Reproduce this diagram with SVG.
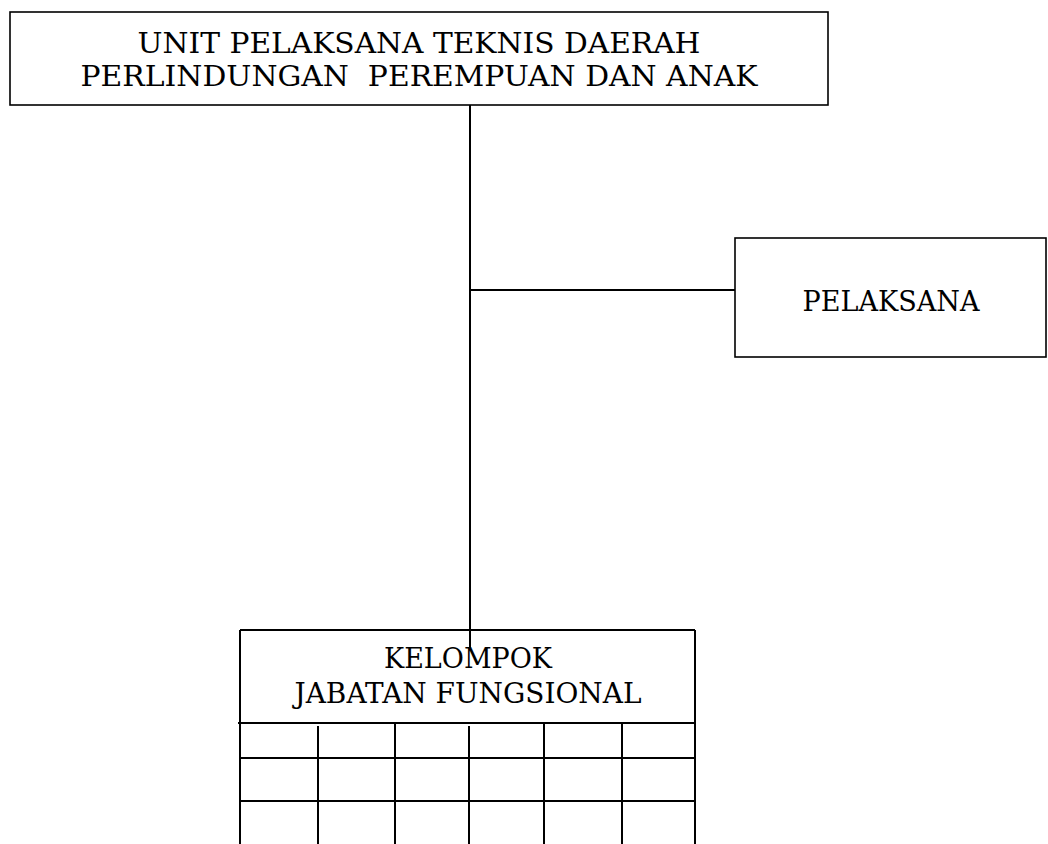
<svg xmlns="http://www.w3.org/2000/svg" width="1048" height="844" viewBox="0 0 1048 844">
<style>
.box{fill:#fff;stroke:#000;stroke-width:1.6}
.ln{stroke:#000;stroke-width:2;fill:none}
.t{font-family:"DejaVu Serif","Liberation Serif",serif;font-size:27px;fill:#000;text-anchor:middle;white-space:pre}
</style>
<rect width="1048" height="844" fill="#fff"/>
<g id="connectors">
<line class="ln" x1="470" y1="105" x2="470" y2="648"/>
<line class="ln" x1="470" y1="290" x2="735" y2="290"/>
</g>
<g id="upt">
<rect class="box" x="10" y="12" width="818" height="93"/>
<text class="t" x="419" y="53" textLength="563" lengthAdjust="spacingAndGlyphs">UNIT PELAKSANA TEKNIS DAERAH</text>
<text class="t" x="419" y="86" textLength="677" lengthAdjust="spacingAndGlyphs" xml:space="preserve">PERLINDUNGAN  PEREMPUAN DAN ANAK</text>
</g>
<g id="pelaksana">
<rect class="box" x="735" y="238" width="311" height="119"/>
<text class="t" x="891" y="311" textLength="177" lengthAdjust="spacingAndGlyphs">PELAKSANA</text>
</g>
<g id="kelompok">
<line class="ln" x1="240" y1="630" x2="695" y2="630"/>
<line class="ln" x1="240" y1="630" x2="240" y2="844"/>
<line class="ln" x1="695" y1="630" x2="695" y2="844"/>
<text class="t" x="468" y="668" textLength="168" lengthAdjust="spacingAndGlyphs">KELOMPOK</text>
<text class="t" x="468" y="703" textLength="347" lengthAdjust="spacingAndGlyphs">JABATAN FUNGSIONAL</text>
<line class="ln" x1="238" y1="723" x2="694" y2="723"/>
<line class="ln" x1="240" y1="758" x2="695" y2="758"/>
<line class="ln" x1="240" y1="801" x2="695" y2="801"/>
<line class="ln" x1="318" y1="726" x2="318" y2="844"/>
<line class="ln" x1="395" y1="724" x2="395" y2="844"/>
<line class="ln" x1="469" y1="726" x2="469" y2="844"/>
<line class="ln" x1="544" y1="724" x2="544" y2="844"/>
<line class="ln" x1="622" y1="724" x2="622" y2="844"/>
</g>
</svg>
